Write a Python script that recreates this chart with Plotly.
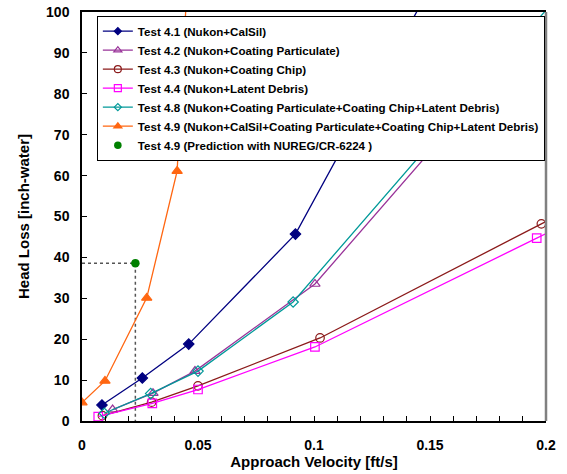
import plotly.graph_objects as go

# Data (points beyond the axis range only continue the lines off-chart)
t41_x = [0.0086, 0.026, 0.046, 0.092, 0.15]
t41_y = [3.9, 10.5, 18.8, 45.7, 106]

t42_x = [0.0132, 0.0306, 0.0487, 0.1004, 0.21]
t42_y = [2.8, 6.8, 12.2, 33.5, 105]

t43_x = [0.0088, 0.030, 0.050, 0.1026, 0.198, 0.21]
t43_y = [1.3, 4.6, 8.6, 20.3, 48.2, 51.7]

t44_x = [0.007, 0.0303, 0.050, 0.1004, 0.196, 0.21]
t44_y = [1.05, 4.3, 7.7, 18.1, 44.7, 48.6]

t48_x = [0.0096, 0.0296, 0.050, 0.091, 0.21]
t48_y = [1.9, 6.7, 12.2, 29.1, 107]

t49_x = [0.0, 0.0099, 0.0279, 0.041, 0.046]
t49_y = [4.5, 9.8, 30.1, 61.1, 114]

pred_x = [0.023]
pred_y = [38.6]

names = [
    "Test 4.1 (Nukon+CalSil)",
    "Test 4.2 (Nukon+Coating Particulate)",
    "Test 4.3 (Nukon+Coating Chip)",
    "Test 4.4 (Nukon+Latent Debris)",
    "Test 4.8 (Nukon+Coating Particulate+Coating Chip+Latent Debris)",
    "Test 4.9 (Nukon+CalSil+Coating Particulate+Coating Chip+Latent Debris)",
    "Test 4.9 (Prediction with NUREG/CR-6224 )",
]

FONT = "Liberation Sans, Arial, sans-serif"

fig = go.Figure()

# dashed guide lines to the prediction point
fig.add_trace(go.Scatter(
    x=[0, pred_x[0], pred_x[0]], y=[pred_y[0], pred_y[0], 0],
    mode="lines", line=dict(color="#555555", width=1.5, dash="3px,3px"),
    showlegend=False, hoverinfo="skip"))

series = [
    (t41_x, t41_y, "#000080", "diamond", 8, 5.5),
    (t42_x, t42_y, "#993399", "triangle-up-open", 9, 7),
    (t43_x, t43_y, "#8B1A1A", "circle-open", 8.5, 7),
    (t44_x, t44_y, "#FF00FF", "square-open", 8.5, 7),
    (t48_x, t48_y, "#009999", "diamond-open", 8, 5.5),
    (t49_x, t49_y, "#FF6611", "triangle-up", 9, 7),
]
for i, ((xs, ys, col, sym, sz, lsz), nm) in enumerate(zip(series, names)):
    fig.add_trace(go.Scatter(
        x=xs, y=ys, mode="lines+markers", name=nm, legendgroup=str(i),
        line=dict(color=col, width=1.3),
        marker=dict(color=col, symbol=sym, size=sz, line=dict(color=col, width=1.2)),
        showlegend=False,
    ))
    # legend entry with the smaller legend symbol of the reference
    fig.add_trace(go.Scatter(
        x=[None], y=[None], mode="lines+markers", name=nm, legendgroup=str(i),
        line=dict(color=col, width=1.3),
        marker=dict(color=col, symbol=sym, size=lsz, line=dict(color=col, width=1.2)),
    ))

fig.add_trace(go.Scatter(
    x=pred_x, y=pred_y, mode="markers", name=names[6],
    marker=dict(color="#008000", symbol="circle", size=8.5),
    showlegend=False, legendgroup="p",
))
fig.add_trace(go.Scatter(
    x=[None], y=[None], mode="markers", name=names[6], legendgroup="p",
    marker=dict(color="#008000", symbol="circle", size=7.5),
))

axis_font = dict(family=FONT, size=14, color="black", weight="bold")
title_font = dict(family=FONT, size=15, color="black", weight="bold")

fig.update_layout(
    width=567, height=474,
    margin=dict(l=82, r=21, t=12, b=53),
    paper_bgcolor="white", plot_bgcolor="white",
    font=dict(family=FONT, color="black"),
    xaxis=dict(
        range=[0, 0.2], dtick=0.05, tick0=0, automargin=False,
        showgrid=False, zeroline=False,
        showline=True, linecolor="black", linewidth=1.5, mirror=True,
        ticks="inside", ticklen=5, tickcolor="black", tickwidth=1,
        minor=dict(dtick=0.01, ticks="inside", ticklen=5, tickcolor="black", tickwidth=1),
        tickfont=axis_font, ticklabelstandoff=10, ticklabeloverflow="allow",
        title=dict(text="Approach Velocity [ft/s]", font=title_font, standoff=4),
    ),
    yaxis=dict(
        range=[0, 100], dtick=10, automargin=False,
        showgrid=False, zeroline=False,
        showline=True, linecolor="black", linewidth=1.5,
        ticks="inside", ticklen=5, tickcolor="black", tickwidth=1,
        tickfont=axis_font, ticklabelstandoff=8, ticklabeloverflow="allow",
        title=dict(text="Head Loss [inch-water]", font=title_font, standoff=13),
    ),
    legend=dict(
        x=0.032, y=0.991, xanchor="left", yanchor="top",
        bgcolor="white", bordercolor="black", borderwidth=1,
        font=dict(family=FONT, size=11.6, color="black", weight="bold"),
        tracegroupgap=0, itemwidth=30,
    ),
    shapes=[dict(type="line", xref="paper", yref="paper", x0=1, x1=1, y0=0, y1=1,
                 line=dict(color="#808080", width=2.5), layer="above")],
)

# remove the page's default body margin so the figure sits at the window origin
fig.write_html("out.html", config={"displayModeBar": False},
               post_script="document.body.style.margin='0';")
